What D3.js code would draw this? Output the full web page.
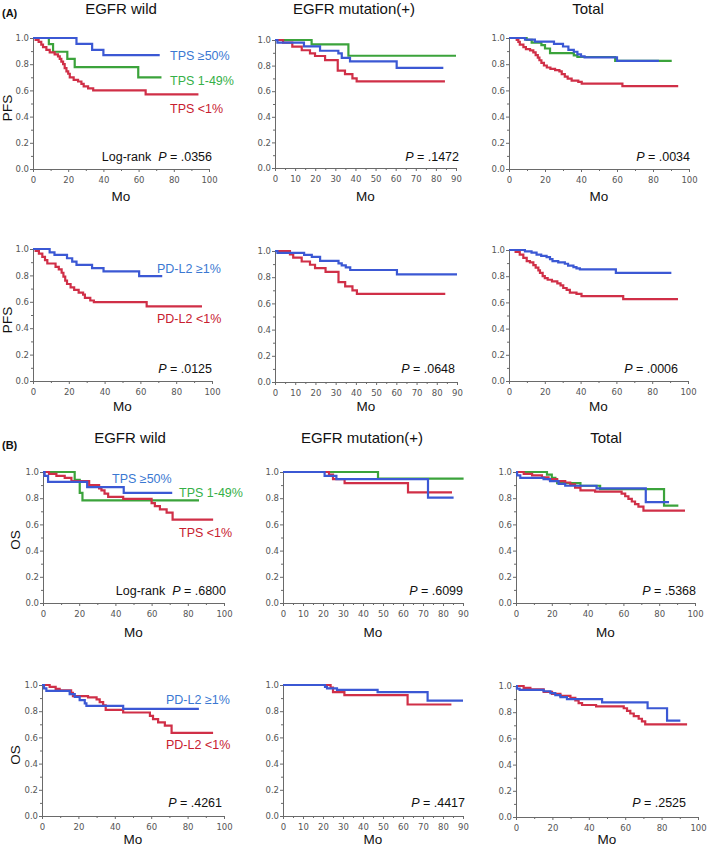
<!DOCTYPE html>
<html><head><meta charset="utf-8">
<script src="https://cdn.jsdelivr.net/npm/d3@7"></script>
<style>body{margin:0;background:#fff}svg{display:block}</style>
</head><body>
<svg id="c" width="709" height="847"></svg>
<script>
// ---------- DATA: [month, survival] step points (first = start, last = final censor) ----------
// (A) PFS, EGFR wild, by TPS
const pfsWildTPS50  = [[0,1],[24.7,0.955],[33.6,0.91],[40,0.87],[72,0.87]];
const pfsWildTPS149 = [[0,1],[9,0.954],[11.4,0.895],[19.5,0.84],[23.7,0.778],[59.8,0.70],[73,0.70]];
const pfsWildTPS1   = [[0,1],[1.5,0.985],[3.2,0.97],[4.7,0.95],[5.7,0.93],[7.6,0.91],[9.5,0.89],[12.3,0.875],[14.2,0.86],[15.2,0.84],[16.1,0.82],[17.1,0.80],[18,0.77],[19,0.745],[20,0.727],[20.9,0.70],[23.1,0.68],[25.6,0.668],[27.5,0.65],[28.8,0.63],[31.3,0.615],[34.2,0.60],[64,0.57],[94,0.57]];
// (A) PFS, EGFR mutation(+), by TPS
const pfsMutTPS50  = [[0,1],[1.2,0.98],[14.4,0.95],[22.4,0.916],[31.5,0.895],[33.2,0.86],[37.3,0.833],[60.5,0.783],[83.7,0.783]];
const pfsMutTPS149 = [[0,1],[18.2,0.966],[36.5,0.877],[90,0.877]];
const pfsMutTPS1   = [[0,1],[4,0.98],[8.6,0.948],[13.3,0.92],[17.4,0.895],[19.9,0.875],[24.9,0.843],[31.2,0.76],[34.8,0.734],[38.5,0.70],[40.6,0.676],[84.5,0.676]];
// (A) PFS, Total, by TPS
const pfsTotTPS50  = [[0,1],[8.9,0.988],[14.4,0.972],[25,0.955],[30,0.935],[33,0.91],[36,0.895],[38,0.875],[40,0.86],[42,0.852],[60,0.825],[83.3,0.825]];
const pfsTotTPS149 = [[0,1],[9.8,0.985],[12.6,0.965],[18,0.945],[20,0.92],[22.8,0.885],[36,0.868],[38,0.855],[59,0.825],[90.4,0.825]];
const pfsTotTPS1   = [[0,1],[4.3,0.985],[5.2,0.97],[6,0.95],[8,0.93],[9.4,0.915],[11.7,0.905],[13.5,0.89],[14.8,0.87],[16,0.85],[16.9,0.83],[18,0.81],[19.4,0.79],[21,0.775],[23,0.765],[25.6,0.755],[28,0.745],[29.3,0.725],[31,0.705],[32.6,0.69],[34.8,0.675],[38.5,0.665],[40.4,0.652],[63,0.633],[94,0.633]];
// (A) PFS, by PD-L2
const pfsWildPDL2pos = [[0,1],[9.3,0.975],[12,0.955],[19,0.93],[21.9,0.905],[24.3,0.88],[33,0.855],[39.4,0.83],[59.3,0.795],[72.2,0.795]];
const pfsWildPDL2neg = [[0,1],[1.5,0.985],[3.3,0.965],[5.2,0.94],[6.7,0.915],[8,0.89],[12.6,0.865],[14.4,0.845],[16,0.82],[17,0.79],[18,0.76],[19,0.735],[21,0.71],[23,0.69],[25.5,0.67],[28,0.655],[29,0.63],[32,0.61],[34,0.597],[63.5,0.565],[94.4,0.565]];
const pfsMutPDL2pos  = [[0,1],[1.2,0.985],[14.4,0.97],[18.2,0.955],[22.3,0.924],[31.4,0.905],[33,0.89],[35,0.875],[37.2,0.855],[60.3,0.822],[90,0.822]];
const pfsMutPDL2neg  = [[0,1],[7.4,0.975],[9,0.95],[13.2,0.92],[17.3,0.895],[19.8,0.87],[25,0.84],[31.4,0.763],[34.7,0.73],[38.3,0.70],[40.5,0.672],[84.2,0.672]];
const pfsTotPDL2pos  = [[0,1],[8.9,0.99],[12.6,0.98],[15.4,0.965],[18,0.955],[21,0.945],[22.9,0.93],[24.3,0.915],[27.5,0.905],[31.2,0.895],[33,0.88],[36,0.87],[37.7,0.86],[39.6,0.852],[59.7,0.825],[90.7,0.825]];
const pfsTotPDL2neg  = [[0,1],[3.7,0.985],[6,0.965],[8,0.94],[9.9,0.915],[11.7,0.905],[13.6,0.885],[14.9,0.865],[16.4,0.845],[17.3,0.825],[18.8,0.80],[20,0.785],[21.6,0.773],[24,0.76],[27,0.745],[28.8,0.73],[30.3,0.71],[32.2,0.695],[34,0.675],[37.7,0.665],[40.5,0.648],[63.8,0.625],[94.4,0.625]];
// (B) OS, by TPS
const osWildTPS50  = [[0,1],[0.9,0.97],[2.8,0.924],[24.4,0.885],[44.6,0.84],[71.4,0.84]];
const osWildTPS149 = [[0,1],[17.5,0.94],[20.3,0.84],[21.8,0.784],[86.2,0.784]];
const osWildTPS1   = [[0,1],[3.3,0.985],[7.4,0.97],[12,0.955],[15.7,0.93],[25.5,0.90],[31,0.875],[32.3,0.86],[34,0.835],[36,0.81],[44.3,0.795],[60,0.763],[61.8,0.74],[64.6,0.715],[68.3,0.69],[71.6,0.636],[94,0.636]];
const osMutTPS50  = [[0,1],[20.8,0.97],[26.7,0.945],[72.5,0.804],[85.3,0.804]];
const osMutTPS149 = [[0,1],[47.5,0.95],[90.3,0.95]];
const osMutTPS1   = [[0,1],[23,0.98],[25,0.945],[30.8,0.915],[62.5,0.845],[84.5,0.845]];
const osTotTPS50  = [[0,1],[0.6,0.975],[2.4,0.955],[15.4,0.945],[19,0.93],[23.8,0.91],[27.5,0.895],[45,0.875],[72.5,0.77],[85.5,0.77]];
const osTotTPS149 = [[0,1],[17.3,0.98],[20,0.955],[22,0.935],[23,0.915],[36,0.895],[47,0.87],[82.7,0.743],[90.7,0.743]];
const osTotTPS1   = [[0,1],[4.3,0.985],[9,0.975],[14.5,0.96],[18.2,0.945],[23,0.93],[27.5,0.92],[30.3,0.905],[33,0.88],[36,0.86],[44.2,0.85],[59,0.835],[61,0.815],[62.8,0.795],[64.7,0.775],[66.5,0.755],[68.4,0.735],[71.2,0.705],[94.4,0.705]];
// (B) OS, by PD-L2
const osWildPDL2pos = [[0,1],[1.1,0.975],[2.4,0.955],[15.2,0.93],[18,0.91],[20.7,0.885],[23.5,0.86],[24.4,0.84],[44.6,0.817],[86.2,0.817]];
const osWildPDL2neg = [[0,1],[4.2,0.985],[7.5,0.97],[9.7,0.96],[16,0.94],[17,0.915],[25.3,0.905],[30,0.89],[31.7,0.87],[33.6,0.845],[35,0.81],[44.6,0.79],[59.3,0.765],[61,0.74],[63.8,0.715],[67.5,0.69],[71.2,0.635],[94,0.635]];
const osMutPDL2pos  = [[0,1],[21,0.985],[22,0.975],[27,0.963],[47.3,0.945],[72.3,0.88],[90,0.88]];
const osMutPDL2neg  = [[0,1],[23.8,0.98],[25,0.946],[30.7,0.923],[62.3,0.851],[84.2,0.851]];
const osTotPDL2pos  = [[0,1],[0.5,0.98],[2,0.97],[15.2,0.96],[18.9,0.945],[21.6,0.93],[24.4,0.915],[28,0.9],[47.3,0.875],[72.3,0.83],[83,0.736],[90.3,0.736]];
const osTotPDL2neg  = [[0,1],[4.2,0.985],[7.9,0.975],[15.2,0.955],[19.8,0.94],[24.4,0.925],[29.9,0.91],[32.6,0.89],[34.4,0.87],[36.3,0.855],[44,0.845],[59.2,0.83],[61,0.81],[62.8,0.79],[64.7,0.77],[67.4,0.75],[69.2,0.73],[71,0.707],[94,0.707]];

// tick labels
const xTicks100 = [0,20,40,60,80,100];
const xMinor100 = [10,30,50,70,90];
const xTicks90  = [0,10,20,30,40,50,60,70,80,90];
const xMinor90  = [5,15,25,35,45,55,65,75,85];
const yTicks    = [0,0.2,0.4,0.6,0.8,1.0];
const yMinor    = [0.1,0.3,0.5,0.7,0.9];
const pValues   = [".0356",".1472",".0034",".0125",".0648",".0006",".6800",".6099",".5368",".4261",".4417",".2525"];

// ---------- STYLE ----------
const lineColor = {blue:"#3b58d4", green:"#3ba33b", red:"#d02f47"};
const textColor = {blue:"#3a78d2", green:"#36b048", red:"#c8202f"};
const FONT = "'Liberation Sans', Arial, sans-serif";

// ---------- LAYOUT ----------
const panels = [
 {box:[33,209,38,169], xmax:100, series:[["green",pfsWildTPS149],["red",pfsWildTPS1],["blue",pfsWildTPS50]], p:0, px:212, py:160.5, logrank:true,
   labels:[["blue","TPS ≥50%",170,59.5],["green","TPS 1-49%",170,84.5],["red","TPS <1%",170,112.5]], mo:201},
 {box:[275,456,40,168], xmax:90, series:[["green",pfsMutTPS149],["red",pfsMutTPS1],["blue",pfsMutTPS50]], p:1, px:459, py:160.5, mo:201},
 {box:[509,689,38,169], xmax:100, series:[["green",pfsTotTPS149],["red",pfsTotTPS1],["blue",pfsTotTPS50]], p:2, px:690, py:160.5, mo:201},
 {box:[33,212,249,381], xmax:100, series:[["red",pfsWildPDL2neg],["blue",pfsWildPDL2pos]], p:3, px:212, py:372.5,
   labels:[["blue","PD-L2 ≥1%",157,272.5],["red","PD-L2 <1%",157,322.5]], mo:411},
 {box:[275,457,251,382], xmax:90, series:[["red",pfsMutPDL2neg],["blue",pfsMutPDL2pos]], p:4, px:455, py:372.5, mo:411},
 {box:[509,688,250,381], xmax:100, series:[["red",pfsTotPDL2neg],["blue",pfsTotPDL2pos]], p:5, px:678, py:372.5, mo:411},
 {box:[43,224,472,603], xmax:100, series:[["green",osWildTPS149],["red",osWildTPS1],["blue",osWildTPS50]], p:6, px:226, py:594.5, logrank:true,
   labels:[["blue","TPS ≥50%",112,482.5],["green","TPS 1-49%",179,496.5],["red","TPS <1%",179,536.5]], mo:637},
 {box:[283,463,472,603], xmax:90, series:[["green",osMutTPS149],["red",osMutTPS1],["blue",osMutTPS50]], p:7, px:463, py:594.5, mo:637},
 {box:[516,695,472,603], xmax:100, series:[["green",osTotTPS149],["red",osTotTPS1],["blue",osTotTPS50]], p:8, px:696, py:594.5, mo:637},
 {box:[42,224,685,816], xmax:100, series:[["red",osWildPDL2neg],["blue",osWildPDL2pos]], p:9, px:222, py:806.5,
   labels:[["blue","PD-L2 ≥1%",166,703.5],["red","PD-L2 <1%",166,748.5]], mo:844},
 {box:[283,463,685,816], xmax:90, series:[["red",osMutPDL2neg],["blue",osMutPDL2pos]], p:10, px:465, py:806.5, mo:844},
 {box:[516,698,686,817], xmax:100, series:[["red",osTotPDL2neg],["blue",osTotPDL2pos]], p:11, px:686, py:806.5, mo:844}
];

const svg = d3.select("#c");

function styleAxis(g){
  g.selectAll(".domain").attr("stroke","#6a6a6a");
  g.selectAll(".tick line").attr("stroke","#6a6a6a");
  g.selectAll(".tick text").attr("fill","#555").attr("font-size","8.5px").attr("font-family","'DejaVu Sans', Verdana, sans-serif");
}

panels.forEach(P=>{
  const [x0,x1,y0,y1] = P.box;
  const x = d3.scaleLinear().domain([0,P.xmax]).range([x0,x1]);
  const y = d3.scaleLinear().domain([0,1]).range([y1,y0]);
  const g = svg.append("g");
  const xt = P.xmax===100 ? xTicks100 : xTicks90;
  const xm = P.xmax===100 ? xMinor100 : xMinor90;

  g.append("g").attr("transform",`translate(0,${y1})`)
    .call(d3.axisBottom(x).tickValues(xm).tickSize(2).tickSizeOuter(0).tickFormat(""))
    .call(styleAxis);
  g.append("g").attr("transform",`translate(0,${y1})`)
    .call(d3.axisBottom(x).tickValues(xt).tickSize(3).tickPadding(5).tickSizeOuter(0))
    .call(styleAxis);
  g.append("g").attr("transform",`translate(${x0},0)`)
    .call(d3.axisLeft(y).tickValues(yMinor).tickSize(2).tickSizeOuter(0).tickFormat(""))
    .call(styleAxis);
  g.append("g").attr("transform",`translate(${x0},0)`)
    .call(d3.axisLeft(y).tickValues(yTicks).tickSize(3).tickPadding(1).tickSizeOuter(0).tickFormat(d3.format(".1f")))
    .call(styleAxis);

  const line = d3.line().x(d=>x(d[0])).y(d=>y(d[1])).curve(d3.curveStepAfter);
  P.series.forEach(([c,data])=>{
    g.append("path").datum(data).attr("d",line).attr("fill","none")
      .attr("stroke",lineColor[c]).attr("stroke-width",2.2).attr("stroke-linejoin","miter");
  });

  (P.labels||[]).forEach(([c,t,lx,ly])=>{
    g.append("text").attr("x",lx).attr("y",ly).text(t)
      .attr("fill",textColor[c]).attr("font-size","12.5px").attr("font-family",FONT);
  });

  const pt = g.append("text").attr("x",P.px).attr("y",P.py).attr("text-anchor","end")
    .attr("font-size","12.5px").attr("font-family",FONT).attr("fill","#111");
  if(P.logrank) pt.append("tspan").text("Log-rank\u00a0\u00a0");
  pt.append("tspan").attr("font-style","italic").text("P");
  pt.append("tspan").text(" = " + pValues[P.p]);

  g.append("text").attr("x",(x0+x1)/2).attr("y",P.mo).attr("text-anchor","middle")
    .attr("font-size","13.5px").attr("font-family",FONT).attr("fill","#111").text("Mo");
});

// titles
const titleRowA = ["EGFR wild","EGFR mutation(+)","Total"];
const titleRowB = ["EGFR wild","EGFR mutation(+)","Total"];
const titleXA = [121,354,588], titleXB = [130,362,606];
titleRowA.forEach((t,i)=>svg.append("text").attr("x",titleXA[i]).attr("y",13.5).attr("text-anchor","middle")
  .attr("font-size","15px").attr("font-family",FONT).attr("fill","#111").text(t));
titleRowB.forEach((t,i)=>svg.append("text").attr("x",titleXB[i]).attr("y",443).attr("text-anchor","middle")
  .attr("font-size","15px").attr("font-family",FONT).attr("fill","#111").text(t));

svg.append("text").attr("x",2).attr("y",17).attr("font-size","11px").attr("font-weight","bold").attr("font-family",FONT).attr("fill","#111").text("(A)");
svg.append("text").attr("x",2).attr("y",449).attr("font-size","11px").attr("font-weight","bold").attr("font-family",FONT).attr("fill","#111").text("(B)");

// y-axis titles
[["PFS",7,108],["PFS",7,320],["OS",15,540],["OS",15,755]].forEach(([t,cx,cy])=>{
  svg.append("text").attr("transform",`translate(${cx},${cy}) rotate(-90)`).attr("text-anchor","middle")
    .attr("dy","0.35em").attr("font-size","13.5px").attr("font-family",FONT).attr("fill","#111").text(t);
});
</script>
</body></html>
